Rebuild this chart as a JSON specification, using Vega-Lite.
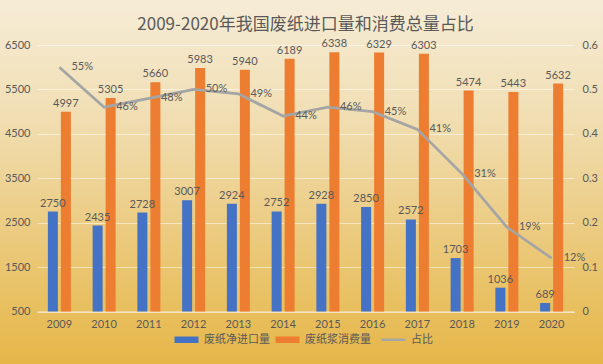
{
  "$schema": "https://vega.github.io/schema/vega-lite/v6.json",
  "width": 603,
  "height": 364,
  "padding": 0,
  "autosize": {"type": "none"},
  "background": "#EDD08E",
  "title": {
    "text": "2009-2020年我国废纸进口量和消费总量占比",
    "offset": -21,
    "baseline": "middle",
    "dy": 21,
    "dx": 4,
    "anchor": "middle",
    "font": "Noto Sans CJK SC",
    "fontSize": 17,
    "fontWeight": "normal",
    "color": "#595959"
  },
  "datasets": {
    "bars": [
      {"year": "2009", "series": "废纸净进口量", "value": 2750},
      {"year": "2009", "series": "废纸浆消费量", "value": 4997},
      {"year": "2010", "series": "废纸净进口量", "value": 2435},
      {"year": "2010", "series": "废纸浆消费量", "value": 5305},
      {"year": "2011", "series": "废纸净进口量", "value": 2728},
      {"year": "2011", "series": "废纸浆消费量", "value": 5660},
      {"year": "2012", "series": "废纸净进口量", "value": 3007},
      {"year": "2012", "series": "废纸浆消费量", "value": 5983},
      {"year": "2013", "series": "废纸净进口量", "value": 2924},
      {"year": "2013", "series": "废纸浆消费量", "value": 5940},
      {"year": "2014", "series": "废纸净进口量", "value": 2752},
      {"year": "2014", "series": "废纸浆消费量", "value": 6189},
      {"year": "2015", "series": "废纸净进口量", "value": 2928},
      {"year": "2015", "series": "废纸浆消费量", "value": 6338},
      {"year": "2016", "series": "废纸净进口量", "value": 2850},
      {"year": "2016", "series": "废纸浆消费量", "value": 6329},
      {"year": "2017", "series": "废纸净进口量", "value": 2572},
      {"year": "2017", "series": "废纸浆消费量", "value": 6303},
      {"year": "2018", "series": "废纸净进口量", "value": 1703},
      {"year": "2018", "series": "废纸浆消费量", "value": 5474},
      {"year": "2019", "series": "废纸净进口量", "value": 1036},
      {"year": "2019", "series": "废纸浆消费量", "value": 5443},
      {"year": "2020", "series": "废纸净进口量", "value": 689},
      {"year": "2020", "series": "废纸浆消费量", "value": 5632}
    ],
    "ratio": [
      {"year": "2009", "ratio": 0.55},
      {"year": "2010", "ratio": 0.46},
      {"year": "2011", "ratio": 0.48},
      {"year": "2012", "ratio": 0.50},
      {"year": "2013", "ratio": 0.49},
      {"year": "2014", "ratio": 0.44},
      {"year": "2015", "ratio": 0.46},
      {"year": "2016", "ratio": 0.45},
      {"year": "2017", "ratio": 0.41},
      {"year": "2018", "ratio": 0.31},
      {"year": "2019", "ratio": 0.19},
      {"year": "2020", "ratio": 0.12}
    ]
  },
  "encoding": {
    "x": {
      "field": "year",
      "type": "ordinal",
      "scale": {"range": [37, 574], "paddingInner": 0, "paddingOuter": 0},
      "axis": {
        "title": null,
        "orient": "bottom",
        "offset": -52.5,
        "labelAngle": 0,
        "domain": true,
        "domainColor": "#F4EDDF",
        "domainWidth": 1,
        "ticks": false,
        "grid": false,
        "labelPadding": 7
      }
    }
  },
  "layer": [
    {
      "data": {"name": "bars"},
      "encoding": {
        "xOffset": {
          "field": "series",
          "type": "nominal",
          "sort": ["废纸净进口量", "废纸浆消费量"],
          "scale": {"paddingInner": 0.23, "paddingOuter": 0.836}
        },
        "y": {
          "field": "value",
          "type": "quantitative",
          "scale": {"domain": [500, 6500], "range": [311.5, 45], "zero": false, "nice": false},
          "axis": {
            "title": null,
            "orient": "left",
            "offset": -37,
            "values": [500, 1500, 2500, 3500, 4500, 5500, 6500],
            "format": "d",
            "domain": false,
            "ticks": false,
            "labelPadding": 7,
            "grid": true,
            "gridColor": "#FFFFFF",
            "gridOpacity": 0.5,
            "gridWidth": 1
          }
        }
      },
      "layer": [
        {
          "mark": {"type": "bar"},
          "encoding": {
            "y2": {"datum": 500},
            "color": {
              "field": "series",
              "type": "nominal",
              "scale": {
                "domain": ["废纸净进口量", "废纸浆消费量", "占比"],
                "range": ["#4472C4", "#ED7D31", "#A5A5A5"]
              },
              "legend": {
                "encode": {
                  "symbols": {
                    "update": {
                      "shape": {"signal": "datum.value === '占比' ? 'M-1,0H1' : 'M-1,-0.27H1V0.27H-1Z'"},
                      "fill": {"scale": "color", "field": "value"},
                      "stroke": {"value": "#A5A5A5"},
                      "strokeWidth": {"signal": "datum.value === '占比' ? 2.5 : 0"},
                      "opacity": {"value": 1}
                    }
                  }
                }
              }
            }
          }
        },
        {
          "mark": {"type": "text", "baseline": "bottom", "dy": -3, "font": "Lato", "fontSize": 11, "color": "#595959"},
          "encoding": {"text": {"field": "value", "type": "quantitative", "format": "d"}}
        }
      ]
    },
    {
      "data": {"name": "ratio"},
      "encoding": {
        "y": {
          "field": "ratio",
          "type": "quantitative",
          "scale": {"domain": [0, 0.6], "range": [311.5, 45], "nice": false},
          "axis": {
            "title": null,
            "orient": "right",
            "offset": -29,
            "values": [0, 0.1, 0.2, 0.3, 0.4, 0.5, 0.6],
            "format": "~g",
            "domain": false,
            "ticks": false,
            "grid": false,
            "labelPadding": 8
          }
        }
      },
      "layer": [
        {
          "mark": {"type": "line", "strokeWidth": 2.75},
          "encoding": {"color": {"datum": "占比"}}
        },
        {
          "mark": {"type": "text", "align": "left", "baseline": "middle", "dx": 12, "font": "Lato", "fontSize": 11, "color": "#595959"},
          "encoding": {"text": {"field": "ratio", "type": "quantitative", "format": ".0%"}}
        }
      ]
    }
  ],
  "resolve": {"scale": {"y": "independent"}, "axis": {"y": "independent"}},
  "config": {
    "view": {
      "stroke": null,
      "fill": {
        "gradient": "linear",
        "x1": 0, "y1": 0, "x2": 0, "y2": 1,
        "stops": [
          {"offset": 0, "color": "#F6ECD6"},
          {"offset": 0.3, "color": "#F1DFB5"},
          {"offset": 0.55, "color": "#EDD08E"},
          {"offset": 0.8, "color": "#E9C266"},
          {"offset": 1, "color": "#E6B648"}
        ]
      }
    },
    "axis": {
      "labelFont": "Lato",
      "labelFontSize": 11,
      "labelColor": "#595959"
    },
    "legend": {
      "orient": "none",
      "legendX": 181,
      "legendY": 334,
      "direction": "horizontal",
      "title": null,
      "labelFont": "Noto Sans CJK SC",
      "labelFontSize": 11,
      "labelColor": "#595959",
      "symbolSize": 576,
      "labelOffset": 12,
      "columnPadding": 5
    }
  }
}
